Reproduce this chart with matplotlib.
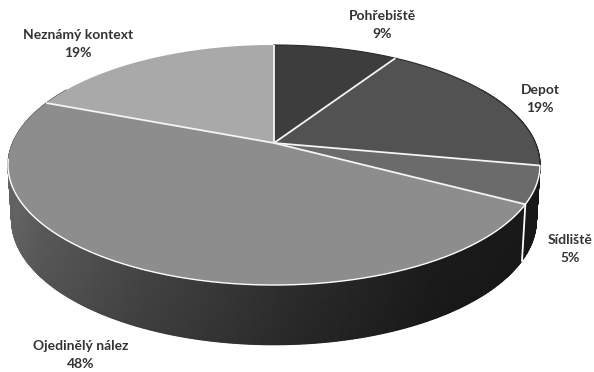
import numpy as np
import matplotlib
matplotlib.use("Agg")
import matplotlib.pyplot as plt

# podily nalezu podle kontextu
categories = ["Pohřebiště", "Depot", "Sídliště", "Ojedinělý nález", "Neznámý kontext"]
shares = [9, 19, 5, 48, 19]
top_colors = ["#3d3d3d", "#525252", "#6b6b6b", "#8d8d8d", "#a9a9a9"]
label_pos = [(382, 16), (540, 90), (570, 240), (81, 346), (78, 35)]

# perspektiva kolace v pixelech
CX = 274
K = 0.1833


def project(ang, r, y0, ax_x, ax_y):
    # uhel merime od 12 hodin po smeru hodin
    u = r * np.sin(ang)
    v = r * np.cos(ang)
    w = 1 + K * v
    return CX + ax_x * u / w, y0 - ax_y * v / w


def top_rim(ang):
    return project(ang, 1.0, 143, 261.5, 116)


def bottom_rim(ang):
    return project(ang, 1.0, 197, 258, 120.7)


fig = plt.figure(figsize=(5.94, 3.72), dpi=100)
ax = fig.add_axes([0, 0, 1, 1])
ax.set_xlim(0, 594)
ax.set_ylim(372, 0)
ax.axis("off")

edges = np.cumsum([0] + shares) / sum(shares) * 2 * np.pi

# bocni stena jako plynuly prechod
steps = np.radians(np.linspace(60, 300, 481))
xt, yt = top_rim(steps)
xb, yb = bottom_rim(steps)
shade = np.interp((xt - 8) / 532, [0, 0.06, 0.25, 0.55, 0.8, 1], [0.42, 0.36, 0.27, 0.17, 0.11, 0.10])
ax.pcolormesh(np.vstack([xt, xb]), np.vstack([yt, yb]), np.vstack([shade, shade * 0.9]),
              shading="gouraud", cmap="gray", vmin=0, vmax=1, zorder=1)

# bila hrana na stene mezi sidlistem a ojedinelym nalezem
xe, ye = top_rim(edges[3])
xf, yf = bottom_rim(edges[3])
ax.plot([xe, xf], [ye, yf], color="white", lw=1.3, zorder=2)

# horni plocha
ax0, ay0 = project(0.0, 0.0, 143, 261.5, 116)
for i in range(len(shares)):
    ang = np.linspace(edges[i], edges[i + 1], 200)
    xs, ys = top_rim(ang)
    ax.fill(np.r_[ax0, xs], np.r_[ay0, ys], color=top_colors[i], lw=0, zorder=3)

# tmavsi zadni okraj
back = np.radians(np.linspace(0, 100, 150))
xs, ys = top_rim(back)
ax.plot(xs, ys, color="#2a2a2a", lw=0.8, zorder=4)

# svetle okraje dilu
for e in edges[:-1]:
    xe, ye = top_rim(e)
    ax.plot([ax0, xe], [ay0, ye], color="#f4f4f4", lw=1.3, zorder=5, solid_capstyle="butt")

# bily lem predni hrany
front = np.radians(np.linspace(101, 262, 300))
xs, ys = top_rim(front)
ax.plot(xs, ys, color="white", lw=1.0, zorder=6)

for name, share, (x, y) in zip(categories, shares, label_pos):
    ax.text(x, y, name, ha="center", va="center", fontsize=10, family="Lato",
            color="#333333", fontweight="bold", zorder=7)
    ax.text(x, y + 18, f"{share}%", ha="center", va="center", fontsize=10, family="Lato",
            color="#333333", fontweight="bold", zorder=7)

fig.savefig("out.png", dpi=100)
